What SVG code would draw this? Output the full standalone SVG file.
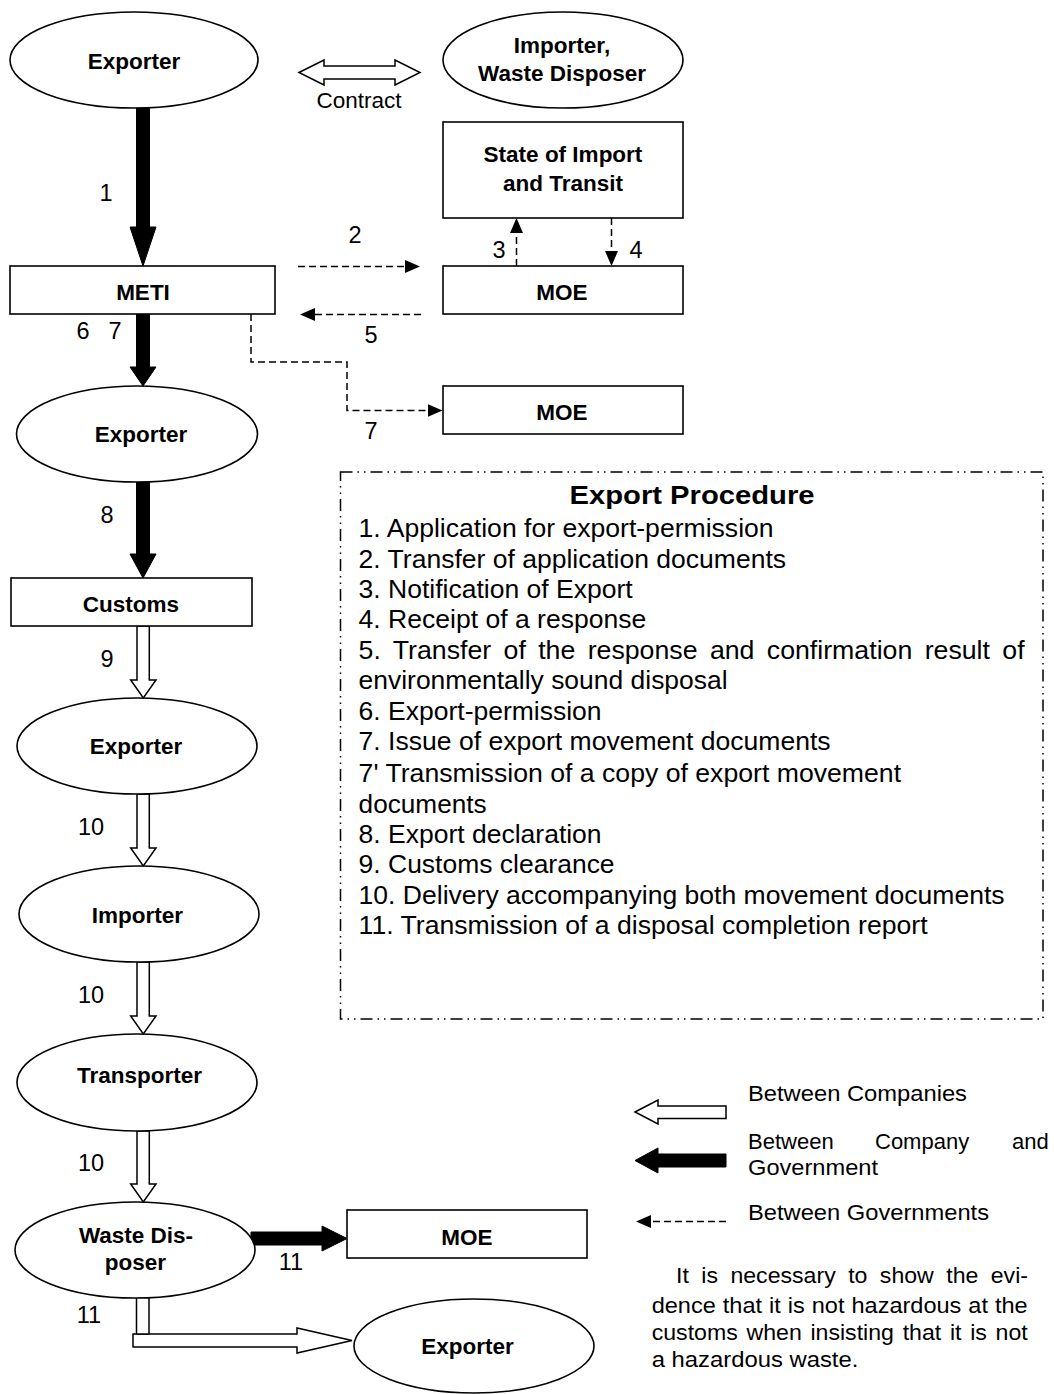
<svg xmlns="http://www.w3.org/2000/svg" width="1054" height="1394" viewBox="0 0 1054 1394">
<defs>
<style>
.node{fill:#fff;stroke:#000;stroke-width:1.6}
.lbl{font-family:"Liberation Sans",Arial,sans-serif;font-weight:bold;font-size:22.5px;text-anchor:middle;fill:#000}
.num{font-family:"Liberation Sans",Arial,sans-serif;font-size:23.5px;text-anchor:middle;fill:#000}
.txt{font-family:"Liberation Sans",Arial,sans-serif;font-size:25px;fill:#000}
.leg{font-family:"Liberation Sans",Arial,sans-serif;font-size:22px;fill:#000}
.note{font-family:"Liberation Sans",Arial,sans-serif;font-size:21.5px;fill:#000}
.dash{fill:none;stroke:#000;stroke-width:1.5;stroke-dasharray:7 4}
.thick{fill:#000;stroke:#000;stroke-width:1}
.hollow{fill:#fff;stroke:#000;stroke-width:1.5;stroke-linejoin:miter}
</style>
<marker id="ah" viewBox="0 0 15 13" refX="0" refY="6.5" markerWidth="15" markerHeight="13" markerUnits="userSpaceOnUse" orient="auto">
<path d="M0,0 L15,6.5 L0,13 z" fill="#000"/>
</marker>
</defs>
<rect width="1054" height="1394" fill="#fff"/>

<g id="connectors">
<polygon id="c-contract" class="hollow" points="299,72.5 324,60 324,66 395,66 395,60 420,72.5 395,85 395,79 324,79 324,85"/>
<polygon id="c1" class="thick" points="136.5,107 149.5,107 149.5,227 156,227 143,266 130,227 136.5,227"/>
<line id="c2" class="dash" x1="298" y1="266.5" x2="405" y2="266.5" marker-end="url(#ah)"/>
<line id="c3" class="dash" x1="516.5" y1="266" x2="516.5" y2="233" marker-end="url(#ah)"/>
<line id="c4" class="dash" x1="611.5" y1="218" x2="611.5" y2="251" marker-end="url(#ah)"/>
<line id="c5" class="dash" x1="421" y1="314.5" x2="315" y2="314.5" marker-end="url(#ah)"/>
<polyline id="c7b" class="dash" points="251,314 251,362 347,362 347,410.5 427.5,410.5" marker-end="url(#ah)"/>
<polygon id="c67" class="thick" points="136.5,314 149.5,314 149.5,367 156,367 143,386 130,367 136.5,367"/>
<polygon id="c8" class="thick" points="136.5,482 149.5,482 149.5,554 156,554 143,578 130,554 136.5,554"/>
<polygon id="c9" class="hollow" points="137,626 149.3,626 149.3,680 156,680 143.3,698 130.7,680 137,680"/>
<polygon id="c10a" class="hollow" points="137,794 149.3,794 149.3,848 156,848 143.3,866 130.7,848 137,848"/>
<polygon id="c10b" class="hollow" points="137,962 149.3,962 149.3,1016 156,1016 143.3,1034 130.7,1016 137,1016"/>
<polygon id="c10c" class="hollow" points="137,1131 149.3,1131 149.3,1184 156,1184 143.3,1202 130.7,1184 137,1184"/>
<polygon id="c11a" class="thick" points="251,1232 322,1232 322,1226 347,1238.5 322,1251 322,1245 251,1245"/>
<polygon id="c11b-h" class="hollow" points="133,1334 297,1334 297,1328 352,1340.5 297,1353 297,1347 133,1347"/>
<rect id="c11b-v" class="hollow" x="136.5" y="1297" width="12.5" height="37"/>
</g>

<g id="n-exporter1"><ellipse class="node" cx="134" cy="60" rx="124" ry="48"/><text class="lbl" x="134" y="69">Exporter</text></g>
<g id="n-importer-disposer"><ellipse class="node" cx="563" cy="60" rx="120" ry="48"/><text class="lbl" x="562" y="53">Importer,</text><text class="lbl" x="562" y="81">Waste Disposer</text></g>
<g id="n-state"><rect class="node" x="443" y="122" width="240" height="96"/><text class="lbl" x="563" y="162">State of Import</text><text class="lbl" x="563" y="191">and Transit</text></g>
<g id="n-meti"><rect class="node" x="10" y="266" width="265" height="48"/><text class="lbl" x="143" y="300">METI</text></g>
<g id="n-moe1"><rect class="node" x="443" y="266" width="240" height="48"/><text class="lbl" x="562" y="300">MOE</text></g>
<g id="n-moe2"><rect class="node" x="443" y="386" width="240" height="48"/><text class="lbl" x="562" y="420">MOE</text></g>
<g id="n-exporter2"><ellipse class="node" cx="137" cy="434" rx="120.5" ry="48"/><text class="lbl" x="141" y="442">Exporter</text></g>
<g id="n-customs"><rect class="node" x="11" y="578" width="241" height="48"/><text class="lbl" x="131" y="612">Customs</text></g>
<g id="n-exporter3"><ellipse class="node" cx="137" cy="746" rx="120" ry="48"/><text class="lbl" x="136" y="754">Exporter</text></g>
<g id="n-importer"><ellipse class="node" cx="139" cy="914" rx="120" ry="48"/><text class="lbl" x="137.5" y="923">Importer</text></g>
<g id="n-transporter"><ellipse class="node" cx="137" cy="1082.5" rx="120" ry="48.5"/><text class="lbl" x="139.5" y="1083">Transporter</text></g>
<g id="n-waste"><ellipse class="node" cx="135" cy="1250" rx="120" ry="48"/><text class="lbl" x="136" y="1243">Waste Dis-</text><text class="lbl" x="135.5" y="1270">poser</text></g>
<g id="n-moe3"><rect class="node" x="347" y="1210" width="240" height="48"/><text class="lbl" x="467" y="1245">MOE</text></g>
<g id="n-exporter4"><ellipse class="node" cx="474" cy="1346" rx="120" ry="47"/><text class="lbl" x="467.5" y="1354">Exporter</text></g>

<g id="labels">
<text class="num" x="359" y="108" style="font-size:22.5px">Contract</text>
<text class="num" x="106" y="201">1</text>
<text class="num" x="355" y="243">2</text>
<text class="num" x="499" y="258">3</text>
<text class="num" x="636" y="258">4</text>
<text class="num" x="371" y="343">5</text>
<text class="num" x="83" y="339">6</text>
<text class="num" x="115" y="339">7</text>
<text class="num" x="371" y="439">7</text>
<text class="num" x="107" y="523">8</text>
<text class="num" x="107" y="667">9</text>
<text class="num" x="91" y="835">10</text>
<text class="num" x="91" y="1003">10</text>
<text class="num" x="91" y="1171">10</text>
<text class="num" x="291" y="1270">11</text>
<text class="num" x="89" y="1323">11</text>
</g>

<g id="procedure">
<rect x="340.5" y="472" width="702.5" height="547" fill="none" stroke="#000" stroke-width="1.5" stroke-dasharray="12 5 1.5 5 1.5 5"/>
<text x="692" y="504" style="font-family:'Liberation Sans',Arial,sans-serif;font-weight:bold;font-size:25px;text-anchor:middle" textLength="245" lengthAdjust="spacingAndGlyphs">Export Procedure</text>
<text class="txt" x="358.6" y="537" textLength="415" lengthAdjust="spacingAndGlyphs">1. Application for export-permission</text>
<text class="txt" x="358.6" y="568" textLength="427.5" lengthAdjust="spacingAndGlyphs">2. Transfer of application documents</text>
<text class="txt" x="358.6" y="598" textLength="274" lengthAdjust="spacingAndGlyphs">3. Notification of Export</text>
<text class="txt" x="358.6" y="628" textLength="287.6" lengthAdjust="spacingAndGlyphs">4. Receipt of a response</text>
<text class="txt" x="358.6" y="659" style="word-spacing:4.6px" textLength="666" lengthAdjust="spacingAndGlyphs">5. Transfer of the response and confirmation result of</text>
<text class="txt" x="358.6" y="689" textLength="369" lengthAdjust="spacingAndGlyphs">environmentally sound disposal</text>
<text class="txt" x="358.6" y="720" textLength="243" lengthAdjust="spacingAndGlyphs">6. Export-permission</text>
<text class="txt" x="358.6" y="750" textLength="472" lengthAdjust="spacingAndGlyphs">7. Issue of export movement documents</text>
<text class="txt" x="358.6" y="782" textLength="542.5" lengthAdjust="spacingAndGlyphs">7' Transmission of a copy of export movement</text>
<text class="txt" x="358.6" y="813" textLength="128" lengthAdjust="spacingAndGlyphs">documents</text>
<text class="txt" x="358.6" y="843" textLength="243" lengthAdjust="spacingAndGlyphs">8. Export declaration</text>
<text class="txt" x="358.6" y="873" textLength="256" lengthAdjust="spacingAndGlyphs">9. Customs clearance</text>
<text class="txt" x="358.6" y="904" textLength="646" lengthAdjust="spacingAndGlyphs">10. Delivery accompanying both movement documents</text>
<text class="txt" x="358.6" y="934" textLength="569" lengthAdjust="spacingAndGlyphs">11. Transmission of a disposal completion report</text>
</g>

<g id="legend">
<polygon class="hollow" points="635,1112 658,1100 658,1106 726,1106 726,1118.5 658,1118.5 658,1124"/>
<polygon class="thick" points="635,1160.5 658,1148 658,1154 726,1154 726,1167 658,1167 658,1173"/>
<line class="dash" x1="726" y1="1221.5" x2="651" y2="1221.5" marker-end="url(#ah)"/>
<text class="leg" x="748" y="1101" textLength="219" lengthAdjust="spacingAndGlyphs">Between Companies</text>
<text class="leg" y="1149"><tspan x="748">Between</tspan> <tspan x="875">Company</tspan> <tspan x="1012">and</tspan></text>
<text class="leg" x="748" y="1175" textLength="130" lengthAdjust="spacingAndGlyphs">Government</text>
<text class="leg" x="748" y="1220" textLength="241" lengthAdjust="spacingAndGlyphs">Between Governments</text>
<text class="note" x="676" y="1283" style="word-spacing:5.6px" textLength="352" lengthAdjust="spacingAndGlyphs">It is necessary to show the evi-</text>
<text class="note" x="651.7" y="1313" style="word-spacing:0.4px" textLength="376" lengthAdjust="spacingAndGlyphs">dence that it is not hazardous at the</text>
<text class="note" x="651.7" y="1340" style="word-spacing:2.1px" textLength="376" lengthAdjust="spacingAndGlyphs">customs when insisting that it is not</text>
<text class="note" x="651.7" y="1367" textLength="206.6" lengthAdjust="spacingAndGlyphs">a hazardous waste.</text>
</g>
</svg>
